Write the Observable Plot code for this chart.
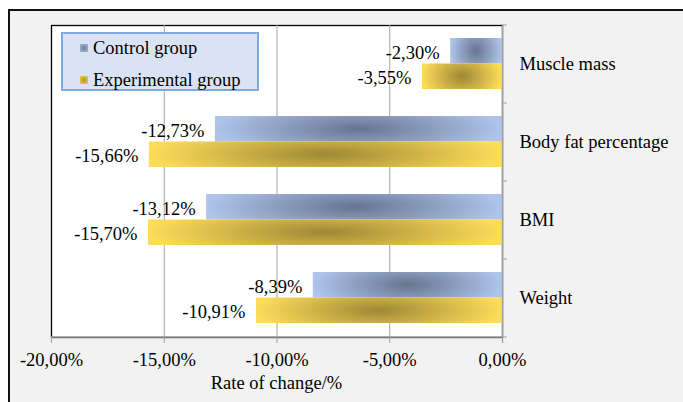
<!DOCTYPE html>
<html>
<head>
<meta charset="utf-8">
<script src="https://cdn.jsdelivr.net/npm/d3@7"></script>
<script src="https://cdn.jsdelivr.net/npm/@observablehq/plot@0.6"></script>
<style>
  html, body { margin: 0; padding: 0; background: #ffffff; width: 683px; height: 402px; overflow: hidden; }
  body { position: relative; font-family: "Liberation Serif", "Times New Roman", Times, serif; }
  #outer { position: absolute; left: 8px; top: 9px; width: 700px; height: 420px;
           border-left: 2px solid #111; border-top: 2px solid #111; background: #f2f2f2; }
  #chart { position: absolute; left: 0; top: 0; }
  #legend { position: absolute; left: 61px; top: 32px; width: 198px; height: 59px; box-sizing: border-box;
            background: #dae3f3; border: 2px solid #80a9dd; }
  .item { position: absolute; left: 30px; font-size: 18.5px; line-height: 20px; color: #000; white-space: nowrap; }
  .item .sw { position: absolute; left: -13px; top: 6px; width: 8px; height: 8px; }
  #xtitle { position: absolute; left: 51px; width: 451px; top: 373px; text-align: center; font-size: 18.5px; line-height: 20px; color: #000; }
  svg text { font-family: "Liberation Serif", "Times New Roman", Times, serif; }
</style>
</head>
<body>
<div id="outer"></div>
<div id="chart"></div>
<div id="legend"></div>
<div id="xtitle"></div>
<script>
// ---- data ----
const categories = ["Muscle mass", "Body fat percentage", "BMI", "Weight"];
const controlValues = [-2.30, -12.73, -13.12, -8.39];
const experimentalValues = [-3.55, -15.66, -15.70, -10.91];
const seriesNames = ["Control group", "Experimental group"];
const xTicks = [-20, -15, -10, -5, 0];
const xTitle = "Rate of change/%";

const fmt = v => v.toFixed(2).replace(".", ",") + "%";

const ctrl = categories.map((c, i) => ({category: c, value: controlValues[i], series: seriesNames[0]}));
const expr = categories.map((c, i) => ({category: c, value: experimentalValues[i], series: seriesNames[1]}));
const lastCat = [categories[categories.length - 1]];

const font = "Liberation Serif, Times New Roman, Times, serif";
const fs = 18.5;

const chart = Plot.plot({
  width: 683,
  height: 402,
  marginLeft: 51,
  marginRight: 181,
  marginTop: 25,
  marginBottom: 65,
  style: {background: "transparent", fontFamily: font, fontSize: fs + "px", color: "#000", overflow: "visible"},
  x: {domain: [xTicks[0], xTicks[xTicks.length - 1]], label: null},
  y: {domain: categories, paddingInner: 0.346, paddingOuter: 0.173, label: null},
  marks: [
    Plot.frame({fill: "#ffffff", stroke: "#000000", strokeWidth: 1.3}),
    Plot.ruleX(xTicks.slice(1, -1), {stroke: "#a6a6a6", strokeWidth: 1}),
    Plot.barX(ctrl, {x: "value", y: "category", fill: "url(#gradCtrl)", insetBottom: 25.5}),
    Plot.barX(expr, {x: "value", y: "category", fill: "url(#gradExp)", insetTop: 25.5}),
    Plot.ruleX([xTicks[xTicks.length - 1]], {stroke: "#a0a0a0", strokeWidth: 1.3, insetBottom: -6}),
    Plot.ruleY(lastCat, {y: d => d, dy: 39, stroke: "#a0a0a0", strokeWidth: 1.3}),
    Plot.ruleY(categories, {y: d => d, dy: -39, x1: 0, x2: 0, insetRight: -5, stroke: "#a0a0a0"}),
    Plot.ruleY(lastCat, {y: d => d, dy: 39, x1: 0, x2: 0, insetRight: -5, stroke: "#a0a0a0"}),
    Plot.text(ctrl, {x: "value", y: "category", text: d => fmt(d.value), textAnchor: "end", dx: -11, dy: -11, fontSize: fs, fill: "#000"}),
    Plot.text(expr, {x: "value", y: "category", text: d => fmt(d.value), textAnchor: "end", dx: -11, dy: 14, fontSize: fs, fill: "#000"}),
    Plot.axisX({ticks: xTicks, tickFormat: fmt, tickSize: 6, tickPadding: 9, stroke: "#a0a0a0", fill: "#000", fontSize: fs, label: null}),
    Plot.axisY({anchor: "right", tickSize: 0, tickPadding: 17, fill: "#000", fontSize: fs, label: null})
  ]
});

const defs = d3.select(chart).insert("defs", ":first-child");
function addGrad(id, center, edge) {
  const g = defs.append("radialGradient").attr("id", id)
    .attr("cx", 0.5).attr("cy", 0.5).attr("r", 0.5)
    .attr("gradientTransform", "translate(0.5,0.5) scale(1,2.2) translate(-0.5,-0.5)");
  g.append("stop").attr("offset", "0%").attr("stop-color", center);
  g.append("stop").attr("offset", "100%").attr("stop-color", edge);
}
addGrad("gradCtrl", "#66748f", "#aec4ea");
addGrad("gradExp", "#9e8734", "#fddc5a");

document.getElementById("chart").appendChild(chart);

const legend = document.getElementById("legend");
const swatches = ["radial-gradient(circle, #6f7d99 0%, #a7bbdf 100%)", "radial-gradient(circle, #b09530 0%, #f3cf50 100%)"];
const rowTops = [4, 36];
seriesNames.forEach((name, i) => {
  const it = document.createElement("div");
  it.className = "item";
  it.style.top = rowTops[i] + "px";
  it.textContent = name;
  const sw = document.createElement("div");
  sw.className = "sw";
  sw.style.background = swatches[i];
  it.prepend(sw);
  legend.appendChild(it);
});
document.getElementById("xtitle").textContent = xTitle;
</script>
</body>
</html>
